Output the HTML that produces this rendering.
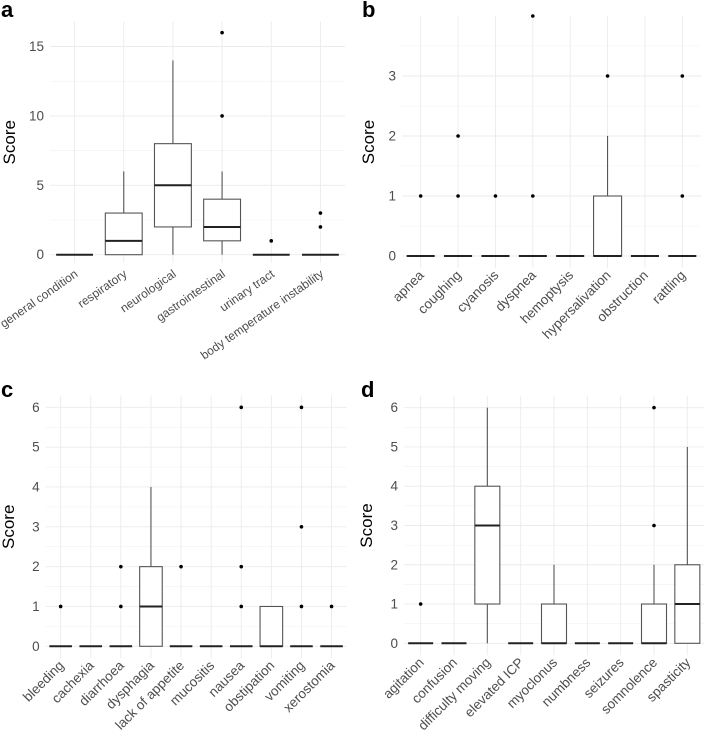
<!DOCTYPE html>
<html><head><meta charset="utf-8">
<style>
html,body{margin:0;padding:0;background:#fff;}
svg{display:block;font-family:"Liberation Sans",Arial,sans-serif;}
</style></head>
<body>
<svg id="chart" width="709" height="735" viewBox="0 0 709 735" xmlns="http://www.w3.org/2000/svg"></svg>
<script>
// Panel a
const catsA = ["general condition","respiratory","neurological","gastrointestinal","urinary tract","body temperature instability"];
const q1A = [0,0,2,1,0,0];
const medA = [0,1,5,2,0,0];
const q3A = [0,3,8,4,0,0];
const loA = [0,0,0,0,0,0];
const hiA = [0,6,14,6,0,0];
const outA = [[],[],[],[10,16],[1],[2,3]];
const ticksA = [0,5,10,15];
// Panel b
const catsB = ["apnea","coughing","cyanosis","dyspnea","hemoptysis","hypersalivation","obstruction","rattling"];
const q1B = [0,0,0,0,0,0,0,0];
const medB = [0,0,0,0,0,0,0,0];
const q3B = [0,0,0,0,0,1,0,0];
const loB = [0,0,0,0,0,0,0,0];
const hiB = [0,0,0,0,0,2,0,0];
const outB = [[1],[1,2],[1],[1,4],[],[3],[],[1,3]];
const ticksB = [0,1,2,3];
// Panel c
const catsC = ["bleeding","cachexia","diarrhoea","dysphagia","lack of appetite","mucositis","nausea","obstipation","vomiting","xerostomia"];
const q1C = [0,0,0,0,0,0,0,0,0,0];
const medC = [0,0,0,1,0,0,0,0,0,0];
const q3C = [0,0,0,2,0,0,0,1,0,0];
const loC = [0,0,0,0,0,0,0,0,0,0];
const hiC = [0,0,0,4,0,0,0,1,0,0];
const outC = [[1],[],[1,2],[],[2],[],[1,2,6],[],[1,3,6],[1]];
const ticksC = [0,1,2,3,4,5,6];
// Panel d
const catsD = ["agitation","confusion","difficulty moving","elevated ICP","myoclonus","numbness","seizures","somnolence","spasticity"];
const q1D = [0,0,1,0,0,0,0,0,0];
const medD = [0,0,3,0,0,0,0,0,1];
const q3D = [0,0,4,0,1,0,0,1,2];
const loD = [0,0,0,0,0,0,0,0,0];
const hiD = [0,0,6,0,2,0,0,2,5];
const outD = [[1],[],[],[],[],[],[],[3,6],[]];
const ticksD = [0,1,2,3,4,5,6];

const NS="http://www.w3.org/2000/svg";
const svg=document.getElementById('chart');
function mk(tag,attrs,parent){const e=document.createElementNS(NS,tag);for(const k in attrs)e.setAttribute(k,attrs[k]);(parent||svg).appendChild(e);return e;}

function panel(p){
  const g=mk('g',{});
  
  
  const n=p.cats.length;
  const sp=(p.x1-p.x0)/n;
  const xs=i=>p.x0+sp*(i+0.5);
  const ys=v=>p.yzero-(v)*p.unit;
  const top=ys(p.dmax), bot=ys(p.dmin);
  for(let i=0;i<p.ticks.length;i++){
    const mv=p.ticks[i]+p.step/2;
    if(ys(mv)>=top-1){const l=mk('line',{x1:p.x0,x2:p.x1,y1:ys(mv),y2:ys(mv),stroke:'#f2f2f2','stroke-width':0.6},g);
    
    }
  }
  p.ticks.forEach(t=>{
    const l=mk('line',{x1:p.x0,x2:p.x1,y1:ys(t),y2:ys(t),stroke:'#ebebeb','stroke-width':0.9},g);
    
    
    const tx=mk('text',{x:p.x0-6,y:ys(t)+4.5,'text-anchor':'end','font-size':13.5,fill:'#4d4d4d'},g);
    tx.textContent=t;
    
    
  });
  p.cats.forEach((c,i)=>{
    const x=xs(i);
    const gl=mk('line',{x1:x,x2:x,y1:top,y2:bot,stroke:'#ebebeb','stroke-width':0.9},g);
    
    
    const hw=sp*0.375;
    const w1=mk('line',{x1:x,x2:x,y1:ys(p.lo[i]),y2:ys(p.q1[i]),stroke:'#555','stroke-width':1.1},g);
    
    
    const w2=mk('line',{x1:x,x2:x,y1:ys(p.q3[i]),y2:ys(p.hi[i]),stroke:'#555','stroke-width':1.1},g);
    
    
    const b=mk('rect',{x:x-hw,y:ys(p.q3[i]),width:2*hw,height:Math.max(0,ys(p.q1[i])-ys(p.q3[i])),fill:'#fff',stroke:'#555','stroke-width':1.1},g);
    
    
    const m=mk('line',{x1:x-hw,x2:x+hw,y1:ys(p.med[i]),y2:ys(p.med[i]),stroke:'#222','stroke-width':2},g);
    
    
    p.out[i].forEach(v=>{
      const d=mk('circle',{cx:x,cy:ys(v),r:1.8,fill:'#000'},g);
      
      
    });
    const lt=mk('text',{transform:`translate(${x+4},${p.yzero+p.lblOff}) rotate(${-p.rot})`,'text-anchor':'end','font-size':p.lblSize,fill:'#4d4d4d'},g);
    lt.textContent=c;
    
    
  });
  const yt=mk('text',{transform:`translate(${p.titleX},${(top+bot)/2}) rotate(-90)`,'text-anchor':'middle','font-size':17,fill:'#000'},g);
  yt.textContent='Score';
  
  
  const lt=mk('text',{x:p.lx,y:p.ly,'font-size':22,'font-weight':'bold',fill:'#000'},g);
  lt.textContent=p.letter;
  
  
}

panel({letter:'a',cats:catsA,q1:q1A,med:medA,q3:q3A,lo:loA,hi:hiA,out:outA,ticks:ticksA,step:5,
  x0:50,x1:345,yzero:254.7,unit:13.88,dmin:-0.6,dmax:16.8,rot:35,lblOff:21,lblSize:12,titleX:15,lx:1,ly:17});
panel({letter:'b',cats:catsB,q1:q1B,med:medB,q3:q3B,lo:loB,hi:hiB,out:outB,ticks:ticksB,step:1,
  x0:402,x1:701,yzero:256,unit:60,dmin:-0.2,dmax:4.0,rot:45,lblOff:20,lblSize:13.5,titleX:374,lx:362,ly:17});
panel({letter:'c',cats:catsC,q1:q1C,med:medC,q3:q3C,lo:loC,hi:hiC,out:outC,ticks:ticksC,step:1,
  x0:45.6,x1:346.6,yzero:646.3,unit:39.83,dmin:-0.3,dmax:6.3,rot:45,lblOff:20,lblSize:13.5,titleX:14,lx:1,ly:397});
panel({letter:'d',cats:catsD,q1:q1D,med:medD,q3:q3D,lo:loD,hi:hiD,out:outD,ticks:ticksD,step:1,
  x0:404,x1:704,yzero:643.3,unit:39.27,dmin:-0.3,dmax:6.3,rot:45,lblOff:20,lblSize:13.5,titleX:372,lx:361,ly:397});
</script>
</body></html>
